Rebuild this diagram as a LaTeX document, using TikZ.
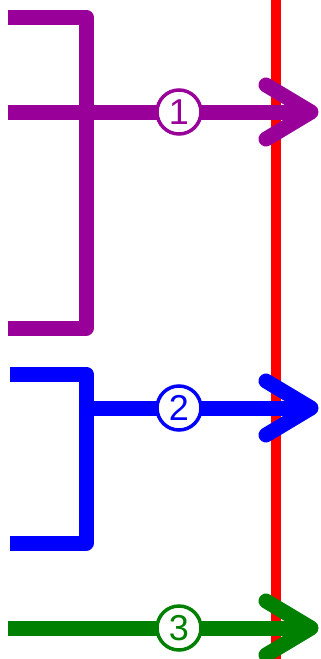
\documentclass[tikz,border=0pt]{standalone}
\usepackage{fontspec}
\setmainfont{Liberation Sans}
\definecolor{pur}{HTML}{990099}
\definecolor{blu}{HTML}{0000FF}
\definecolor{grn}{HTML}{008000}
\definecolor{rd}{HTML}{FF0000}
\begin{document}
\begin{tikzpicture}[x=1pt,y=-1pt,
  bar/.style={line width=15pt, line join=round},
  chev/.style={line width=15pt, line cap=round, line join=round},
  num/.style={circle, draw=#1, text=#1, fill=white, line width=3.5pt, minimum size=44pt, inner sep=0pt, font=\fontsize{36}{36}\selectfont}]
\useasboundingbox (0,0) rectangle (321,659);
% red line
\coordinate (rtop) at (276,0);
\coordinate (rbot) at (276,659);
\draw[rd, line width=10pt] (rtop) -- (rbot);
% purple
\coordinate (p1) at (8,17);
\coordinate (p2) at (86,17);
\coordinate (p3) at (86,328);
\coordinate (p4) at (8,328);
\draw[pur, bar] (p1) -- (p2) -- (p3) -- (p4);
\coordinate (pa) at (8,112);
\coordinate (pt) at (311,112);
\coordinate (pu) at (266,85);
\coordinate (pd) at (266,139);
\draw[pur, bar] (pa) -- (pt);
\draw[pur, chev] (pu) -- (pt) -- (pd);
\node[num=pur] (c1) at (179,112) {1};
% blue
\coordinate (b1) at (10,374);
\coordinate (b2) at (86,374);
\coordinate (b3) at (86,543);
\coordinate (b4) at (10,543);
\draw[blu, bar] (b1) -- (b2) -- (b3) -- (b4);
\coordinate (ba) at (86,408);
\coordinate (bt) at (311,408);
\coordinate (bu) at (266,381);
\coordinate (bd) at (266,435);
\draw[blu, bar] (ba) -- (bt);
\draw[blu, chev] (bu) -- (bt) -- (bd);
\node[num=blu] (c2) at (179,408) {2};
% green
\coordinate (ga) at (8,628);
\coordinate (gt) at (311,628);
\coordinate (gu) at (266,601);
\coordinate (gd) at (266,655);
\draw[grn, bar] (ga) -- (gt);
\draw[grn, chev] (gu) -- (gt) -- (gd);
\node[num=grn] (c3) at (179,628) {3};
\end{tikzpicture}
\end{document}
